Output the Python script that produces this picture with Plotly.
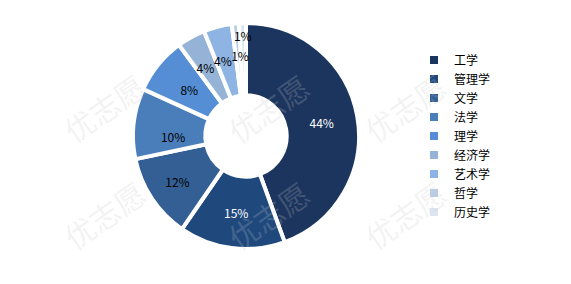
import plotly.graph_objects as go

categories = ["工学", "管理学", "文学", "法学", "理学", "经济学", "艺术学", "哲学", "历史学"]
values = [44, 15, 12, 10, 8, 4, 4, 1, 1]
colors = ["#1c355e", "#1f497d", "#345f95", "#4a7ebb", "#558ed5",
          "#95b3d7", "#8eb4e3", "#b9cde5", "#dce6f2"]
text_colors = ["#ffffff", "#ffffff", "#000000", "#000000", "#000000",
               "#000000", "#000000", "#000000", "#000000"]

FONT = "Noto Sans CJK SC"
W, H = 571, 284
CX, CY = 246, 136  # pie centre in pixels (from top-left)


def dom(r):
    return dict(x=[(CX - r) / W, (CX + r) / W],
                y=[(H - CY - r) / H, (H - CY + r) / H])


labels_txt = [f"{v}%" for v in values]
n = len(values)
# label layers: (outer radius px, hole fraction, rotation nudge); layer 0 is the donut
layers = [(113, 0.36, 0), (86, 0.7, 0), (104, 0.8, 0), (89, 0.7, -2.5), (83, 0.7, 1.2),
          (90, 0.7, -1.5)]
layer_of = [0, 0, 0, 1, 1, 5, 3, 4, 2]


def texts_for(k):
    return [t if layer_of[i] == k else "" for i, t in enumerate(labels_txt)]


fig = go.Figure()
# main donut
fig.add_trace(go.Pie(
    labels=categories, values=values, sort=False, direction="clockwise", rotation=0,
    hole=layers[0][1],
    marker=dict(colors=colors, line=dict(color="#ffffff", width=4)),
    text=texts_for(0), texttemplate="%{text}",
    textposition="inside", insidetextorientation="horizontal",
    textfont=dict(family=FONT, size=12, color=text_colors),
    domain=dom(layers[0][0]),
    showlegend=True,
))
# transparent label layers placing the smaller slices' labels at mid-ring
for k in range(1, len(layers)):
    r, h, rot = layers[k]
    fig.add_trace(go.Pie(
        labels=categories, values=values, sort=False, direction="clockwise", rotation=rot,
        hole=h,
        marker=dict(colors=["rgba(0,0,0,0)"] * n, line=dict(width=0)),
        text=texts_for(k), texttemplate="%{text}",
        textposition="inside", insidetextorientation="horizontal",
        textfont=dict(family=FONT, size=12, color=text_colors),
        domain=dom(r),
        showlegend=False, hoverinfo="skip",
    ))

# faint watermarks
for (x, y) in [(0.09, 0.62), (0.80, 0.62), (0.47, 0.62), (0.09, 0.08), (0.47, 0.08), (0.80, 0.08)]:
    fig.add_annotation(x=x, y=y, xref="paper", yref="paper", text="优志愿",
                       showarrow=False, textangle=-35,
                       font=dict(family=FONT, size=30, color="rgba(200,200,200,0.22)"))

fig.update_layout(
    width=W, height=H,
    margin=dict(l=0, r=0, t=0, b=0),
    paper_bgcolor="#ffffff",
    plot_bgcolor="#ffffff",
    font=dict(family=FONT, size=12, color="#000000"),
    uniformtext=dict(minsize=12, mode="show"),
    legend=dict(x=0.725, y=0.84, xanchor="left", yanchor="top",
                font=dict(family=FONT, size=12, color="#000000"),
                itemwidth=30, tracegroupgap=0, bgcolor="rgba(0,0,0,0)"),
)

fig.write_html("out.html")
